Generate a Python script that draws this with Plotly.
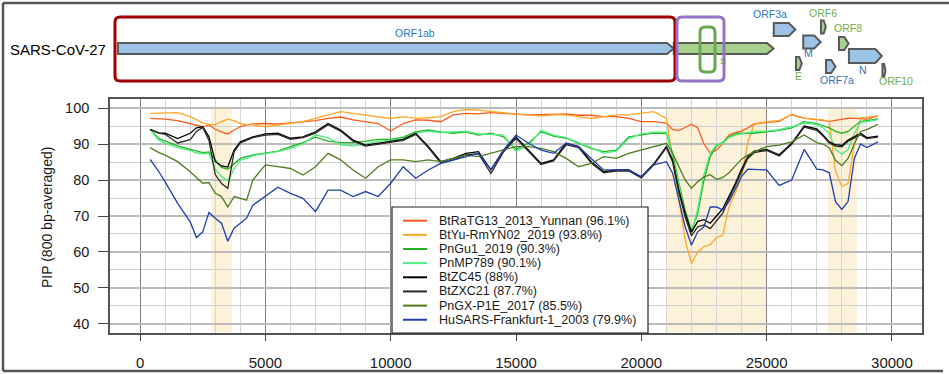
import plotly.graph_objects as go

W, H = 949, 374

# window centre along the genome (bp)
pos = [400, 750, 1000, 1500, 2000, 2250, 2500, 2750, 3000, 3250, 3500, 3750, 4000, 4250, 4500,
       5000, 5500, 6000, 6500, 7000, 7500, 8000, 8500, 9000, 9500, 10000, 10500, 11000, 11500,
       12000, 12500, 13000, 13500, 14000, 14500, 15000, 15500, 16000, 16500, 17000, 17500, 18000,
       18500, 19000, 19500, 20000, 20500, 21000, 21250, 21500, 21750, 22000, 22250, 22500, 22750,
       23000, 23250, 23500, 23750, 24000, 24250, 24500, 25000, 25500, 26000, 26500, 27000, 27250,
       27500, 27750, 28000, 28250, 28500, 28750, 29000, 29450]

ratg13 = [97.1, 97.0, 96.9, 96.5, 95.7, 95.2, 94.8, 95.3, 94.1, 93.4, 92.8, 93.9, 94.8, 95.3, 95.6,
          95.7, 95.6, 95.9, 96.2, 96.5, 97.1, 97.5, 96.7, 96.2, 95.7, 93.6, 95.7, 96.7, 96.6,
          96.2, 98.1, 98.5, 98.4, 98.7, 98.4, 98.3, 98.1, 98.2, 98.2, 98.4, 98.0, 98.0,
          97.6, 97.6, 97.1, 96.2, 96.2, 95.8, 94.0, 93.8, 94.6, 95.5, 94.5, 90.0, 87.5,
          88.3, 90.2, 92.5, 93.2, 93.6, 94.5, 95.6, 96.0, 96.3, 98.2, 97.2, 96.8, 96.6,
          96.3, 96.6, 96.9, 97.2, 97.1, 96.9, 96.9, 97.8]

btyu = [98.5, 98.6, 98.5, 98.7, 97.6, 96.8, 95.9, 95.5, 95.3, 96.2, 96.9, 96.5, 95.7, 95.4, 95.3,
        94.8, 95.3, 95.7, 96.2, 97.1, 98.0, 99.0, 98.5, 98.1, 97.6, 97.1, 97.6, 97.1, 97.3,
        97.6, 99.0, 99.6, 99.4, 99.0, 98.5, 98.3, 98.1, 97.8, 98.1, 98.1, 97.6, 97.1,
        97.6, 98.1, 98.1, 98.5, 99.0, 97.1, 85.6, 74.4, 63.3, 56.8, 60.0, 61.5, 62.0,
        64.0, 64.7, 72.6, 76.3, 80.9, 90.5, 95.5, 96.2, 96.5, 98.1, 97.1, 96.7, 96.7,
        96.2, 82.5, 78.2, 79.0, 90.0, 97.3, 97.5, 97.8]

pngu1 = [94.1, 91.5, 90.8, 89.5, 88.5, 88.0, 87.6, 87.8, 85.5, 83.5, 83.0, 84.5, 86.0, 86.5, 87.0,
         87.5, 88.0, 89.3, 90.4, 91.9, 90.8, 90.4, 90.4, 90.8, 91.3, 91.3, 91.9, 93.4, 93.9,
         93.4, 93.0, 93.4, 92.5, 93.0, 92.0, 88.5, 90.2, 93.4, 92.2, 91.6, 90.2, 88.8,
         87.9, 88.3, 92.0, 92.5, 93.0, 93.0, 87.4, 79.1, 71.7, 66.0, 70.7, 80.0, 86.5,
         89.5, 90.5, 92.0, 92.8, 93.0, 93.0, 93.0, 93.4, 93.8, 94.5, 96.2, 95.7, 95.0,
         94.5, 93.5, 93.0, 93.5, 95.0, 96.3, 96.5, 97.0]

pnmp789 = [94.1, 91.0, 90.2, 89.0, 88.2, 87.5, 87.3, 87.4, 83.0, 81.0, 79.8, 83.0, 85.5, 86.0, 86.8,
           87.4, 87.9, 88.8, 90.0, 92.5, 91.8, 89.8, 89.5, 90.0, 90.8, 91.0, 91.5, 93.0, 93.6,
           93.2, 93.3, 93.6, 92.8, 92.6, 92.5, 88.0, 89.5, 93.8, 92.5, 91.8, 90.5, 89.0,
           87.5, 88.0, 91.5, 92.8, 93.3, 93.3, 86.5, 78.0, 70.5, 65.2, 72.0, 81.5, 87.5,
           89.8, 90.2, 91.8, 92.5, 92.8, 93.2, 93.5, 93.6, 94.0, 94.8, 95.8, 95.4, 94.5,
           93.0, 88.5, 87.2, 88.5, 93.0, 96.0, 96.2, 96.8]

btzc45 = [94.1, 93.1, 93.0, 91.5, 93.0, 94.5, 94.8, 92.0, 85.1, 83.9, 83.6, 88.3, 90.6, 91.3, 92.0,
          92.8, 93.0, 91.6, 92.0, 93.4, 95.7, 93.9, 91.1, 89.7, 90.2, 90.6, 91.3, 93.0, 89.3,
          85.1, 86.0, 87.4, 87.9, 82.8, 88.3, 92.0, 88.3, 84.6, 85.6, 90.2, 89.3, 85.1,
          82.3, 82.8, 82.8, 80.9, 84.5, 89.3, 85.6, 77.2, 70.7, 65.5, 68.5, 69.0, 68.0,
          70.0, 72.0, 75.5, 79.0, 83.0, 86.5, 88.0, 88.5, 87.0, 90.2, 95.0, 94.2, 92.5,
          90.6, 89.8, 89.6, 91.1, 92.0, 93.0, 91.8, 92.2]

btzxc21 = [94.0, 93.0, 92.7, 90.3, 91.2, 93.5, 94.6, 91.0, 81.5, 79.0, 77.7, 87.8, 90.3, 91.0, 91.8,
           92.5, 92.7, 91.3, 91.8, 93.0, 95.4, 93.6, 90.8, 89.4, 90.0, 90.4, 91.0, 92.7, 89.0,
           84.7, 85.6, 87.0, 87.3, 81.8, 87.8, 91.6, 88.0, 84.3, 85.3, 89.8, 89.0, 84.7,
           82.0, 82.5, 82.5, 80.6, 84.2, 89.0, 85.0, 76.5, 69.8, 64.5, 67.0, 67.5, 66.5,
           68.5, 70.8, 74.8, 78.5, 82.5, 86.0, 87.6, 88.2, 86.7, 89.9, 94.7, 93.8, 92.2,
           90.3, 89.4, 89.2, 90.8, 91.7, 92.6, 91.5, 91.9]

pngx = [89.0, 87.6, 86.9, 85.1, 82.3, 80.8, 79.1, 79.3, 76.3, 75.4, 72.5, 75.4, 74.9, 74.4, 80.0,
        84.2, 83.7, 83.2, 81.4, 83.7, 87.4, 85.6, 82.8, 80.5, 83.7, 85.6, 85.6, 85.1, 85.6,
        85.1, 86.0, 86.9, 86.5, 87.4, 88.3, 89.3, 89.3, 88.8, 87.9, 86.0, 83.7, 84.6,
        86.5, 86.0, 87.4, 88.3, 89.3, 90.2, 87.4, 83.7, 80.0, 77.7, 79.5, 80.9, 81.5,
        80.2, 80.7, 82.0, 84.0, 85.8, 86.9, 87.8, 89.3, 89.7, 90.6, 92.5, 90.4, 90.0,
        89.0, 85.5, 84.0, 86.0, 90.0, 93.5, 94.0, 95.5]

husars = [85.7, 82.3, 79.5, 73.5, 68.4, 64.0, 65.6, 71.0, 69.4, 68.0, 63.0, 66.6, 68.0, 69.4, 73.0,
          75.4, 78.0, 76.3, 74.9, 71.2, 77.2, 77.2, 75.4, 76.8, 75.4, 79.1, 83.7, 80.5, 82.8,
          84.6, 85.6, 86.5, 87.4, 82.8, 88.3, 92.5, 90.2, 88.3, 87.4, 90.2, 89.3, 86.0,
          82.8, 82.8, 82.8, 80.9, 84.2, 85.1, 81.9, 74.4, 67.0, 61.9, 65.6, 67.0, 72.5,
          72.5, 71.7, 74.0, 77.5, 81.0, 83.0, 83.0, 82.8, 78.5, 80.0, 88.5, 83.0, 82.8,
          82.0, 74.0, 71.8, 74.0, 86.0, 90.0, 89.0, 90.6]

series = [ratg13, btyu, pngu1, pnmp789, btzc45, btzxc21, pngx, husars]
labels = ["BtRaTG13_2013_Yunnan (96.1%)", "BtYu-RmYN02_2019 (93.8%)", "PnGu1_2019 (90.3%)",
          "PnMP789 (90.1%)", "BtZC45 (88%)", "BtZXC21 (87.7%)", "PnGX-P1E_2017 (85.5%)",
          "HuSARS-Frankfurt-1_2003 (79.9%)"]
colors = ["#FF5A1E", "#FFA726", "#22B422", "#4CF07F", "#000000", "#2A2A22", "#4E7D1E", "#1F3FAF"]

x_ticks = [0, 5000, 10000, 15000, 20000, 25000, 30000]
y_ticks = [40, 50, 60, 70, 80, 90, 100]

# highlighted genome regions (bp)
shade_start = [2850, 21000, 27450]
shade_end = [3670, 25000, 28600]

# gene map
gene_names = ["ORF1ab", "S", "ORF3a", "E", "M", "ORF6", "ORF7a", "ORF8", "N", "ORF10"]
gene_start = [266, 21563, 25393, 26245, 26523, 27202, 27394, 27894, 28274, 29558]
gene_end = [21555, 25384, 26220, 26472, 27191, 27387, 27759, 28259, 29533, 29674]
gene_kind = ["b", "g", "b", "g", "b", "g", "b", "g", "b", "g"]

# regions boxed on the gene map (bp)
box_start = [153, 21686, 22567]
box_end = [21609, 23487, 23142]

# ---------- layout helpers ----------
def px(x):
    return x / W


def py(y):
    return 1 - y / H


lane = {"ORF1ab": (48.5, 5.5), "S": (48.5, 5.5), "ORF3a": (29.5, 6.5), "E": (63.5, 6.5),
        "M": (42, 6.5), "ORF6": (27, 6.5), "ORF7a": (66.5, 6.5), "ORF8": (43.5, 6.5),
        "N": (56, 7), "ORF10": (70.5, 6.5)}
label_at = {"ORF1ab": (11648, 33), "S": (23448, 61), "ORF3a": (25249, 14), "E": (26322, 76),
            "M": (26743, 53), "ORF6": (27280, 13), "ORF7a": (27816, 80), "ORF8": (28238, 28),
            "N": (28812, 70), "ORF10": (30077, 81)}
fill = {"b": "#9DC3E6", "g": "#A9D18E"}
txtc = {"b": "#2E75B6", "g": "#70AD47"}
bp_per_px = 1 / 0.0261

fig = go.Figure()

for ys, name, c in zip(series, labels, colors):
    fig.add_trace(go.Scatter(x=pos, y=ys, mode="lines", name=name,
                             line=dict(color=c, width=1.3), showlegend=False,
                             hoverinfo="x+y+name"))

shapes = []
for s, e in zip(shade_start, shade_end):
    shapes.append(dict(type="rect", xref="x", yref="y", x0=s, x1=e, y0=37.6, y1=100,
                       fillcolor="#FCF1D9", line=dict(width=0), layer="below"))

# gene arrows
for g, s, e, k in zip(gene_names, gene_start, gene_end, gene_kind):
    yc, h = lane[g]
    hl = min(250, 0.45 * (e - s))
    path = (f"M {s},{yc - h} L {e - hl},{yc - h} L {e},{yc} L {e - hl},{yc + h} "
            f"L {s},{yc + h} Z")
    shapes.append(dict(type="path", xref="x2", yref="y2", path=path, fillcolor=fill[k],
                       line=dict(color="#595959", width=2), layer="above"))

# rounded boxes over the gene map
box_style = [("#A00000", 17, 81), ("#9673C8", 17, 81), ("#6AA84F", 27, 72)]
rx, ry = 5 * bp_per_px, 5
for s, e, (c, y0, y1) in zip(box_start, box_end, box_style):
    path = (f"M {s + rx},{y0} L {e - rx},{y0} Q {e},{y0} {e},{y0 + ry} L {e},{y1 - ry} "
            f"Q {e},{y1} {e - rx},{y1} L {s + rx},{y1} Q {s},{y1} {s},{y1 - ry} "
            f"L {s},{y0 + ry} Q {s},{y0} {s + rx},{y0} Z")
    shapes.append(dict(type="path", xref="x2", yref="y2", path=path,
                       line=dict(color=c, width=3), layer="above"))

# outer frame
frame = dict(color="#555555", width=2.5)
shapes.append(dict(type="line", xref="paper", yref="paper", x0=px(3), x1=1, y0=py(3), y1=py(3), line=frame))
shapes.append(dict(type="line", xref="paper", yref="paper", x0=px(3), x1=px(3), y0=py(3), y1=py(371), line=frame))
shapes.append(dict(type="line", xref="paper", yref="paper", x0=px(3), x1=px(943), y0=py(371), y1=py(371), line=frame))

# legend box
shapes.append(dict(type="rect", xref="paper", yref="paper", x0=px(392), x1=px(648),
                   y0=py(333), y1=py(207), fillcolor="white",
                   line=dict(color="#222222", width=1.2), layer="above"))

annotations = []
for i, (name, c) in enumerate(zip(labels, colors)):
    yy = 220.7 + i * 14.15
    shapes.append(dict(type="line", xref="paper", yref="paper", x0=px(403), x1=px(427),
                       y0=py(yy), y1=py(yy), line=dict(color=c, width=2), layer="above"))
    annotations.append(dict(xref="paper", yref="paper", x=px(437), y=py(yy), text=name,
                            showarrow=False, xanchor="left", yanchor="middle",
                            font=dict(size=12.5, color="#1a1a1a")))

for g, k in zip(gene_names, gene_kind):
    lx, ly = label_at[g]
    annotations.append(dict(xref="x2", yref="y2", x=lx, y=ly, text=g, showarrow=False,
                            xanchor="center", yanchor="middle",
                            font=dict(size=9 if g == "S" else 10.5,
                                      color="#6F8F5F" if g == "S" else txtc[k])))

annotations.append(dict(xref="paper", yref="paper", x=px(8), y=py(50), text="SARS-CoV-27",
                        showarrow=False, xanchor="left", yanchor="middle",
                        font=dict(size=15, color="black")))
annotations.append(dict(xref="paper", yref="paper", x=px(47), y=py(218),
                        text="PIP (800 bp-averaged)", textangle=-90, showarrow=False,
                        xanchor="center", yanchor="middle", font=dict(size=14, color="#1a1a1a")))

fig.update_layout(
    width=W, height=H,
    margin=dict(l=0, r=0, t=0, b=0),
    paper_bgcolor="white", plot_bgcolor="white",
    font=dict(family="Liberation Sans, Arial, sans-serif", color="#1a1a1a"),
    shapes=shapes, annotations=annotations,
    xaxis=dict(domain=[px(110), px(922)], range=[-1200, 31200],
               tickvals=x_ticks, ticktext=[str(v) for v in x_ticks],
               ticks="outside", ticklen=7, tickwidth=1.2, tickcolor="#444444",
               ticklabelstandoff=9, tickfont=dict(size=15, color="#1a1a1a"),
               showgrid=True, gridcolor="#808080", gridwidth=1.2,
               minor=dict(tickvals=list(range(1000, 30000, 1000)), showgrid=True,
                          gridcolor="#D6D6D6", gridwidth=1.2),
               showline=True, mirror=True, linecolor="#555555", linewidth=1.6,
               zeroline=False),
    yaxis=dict(domain=[py(332.6), py(99.4)], range=[37.6, 102.4],
               tickvals=y_ticks, ticktext=[str(v) for v in y_ticks],
               ticks="outside", ticklen=10, tickwidth=1.2, tickcolor="#444444",
               ticklabelstandoff=6, tickfont=dict(size=14.5, color="#1a1a1a"),
               showgrid=True, gridcolor="#BCBCBC", gridwidth=1.6,
               minor=dict(tickvals=[45, 55, 65, 75, 85, 95], showgrid=True,
                          gridcolor="#D0D0D0", gridwidth=1.4),
               showline=True, mirror=True, linecolor="#555555", linewidth=1.6,
               zeroline=False),
    xaxis2=dict(domain=[0, 1], range=[-111 * bp_per_px, (W - 111) * bp_per_px],
                anchor="y2", visible=False),
    yaxis2=dict(domain=[py(93.5), 1], range=[93.5, 0], anchor="x2", visible=False),
)

fig.write_html("out.html", config={"displayModeBar": False},
               post_script="document.body.style.margin='0px';document.body.style.overflow='hidden';")
